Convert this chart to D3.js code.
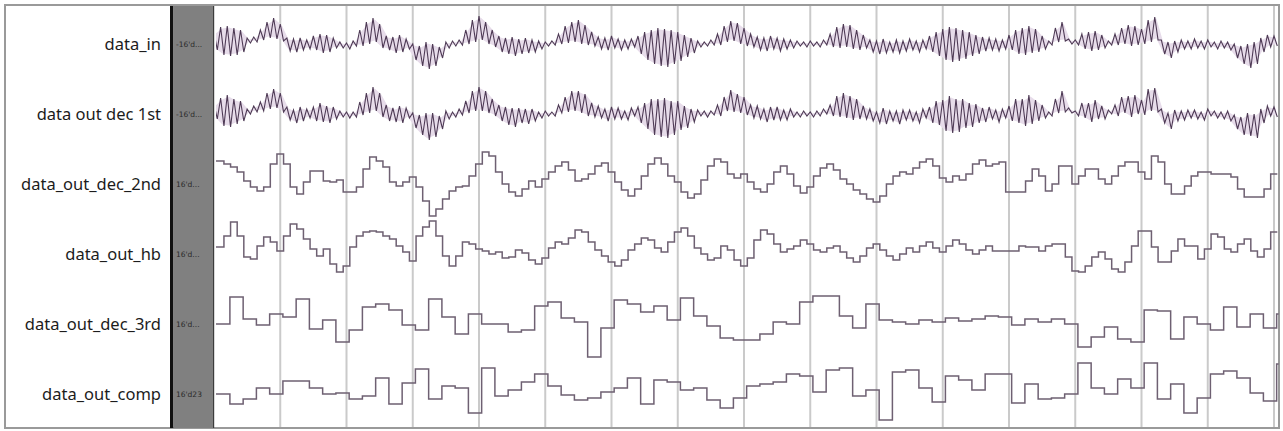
<!DOCTYPE html>
<html>
<head>
<meta charset="utf-8">
<script src="https://cdn.jsdelivr.net/npm/d3@7"></script>
<style>
  html, body { margin: 0; padding: 0; background: #fff; }
  svg { display: block; }
  .name { font-family: "Noto Sans", sans-serif; font-size: 16.5px; fill: #1c1c1c; }
  .val { font-family: "DejaVu Sans", sans-serif; font-size: 7.5px; fill: #2a2a2a; }
</style>
</head>
<body>
<div id="chart"></div>
<script>
// signal names in the left panel, top to bottom
const signalNames = ["data_in", "data out dec 1st", "data_out_dec_2nd", "data_out_hb", "data_out_dec_3rd", "data_out_comp"];
// cursor values in the grey column
const valueLabels = ["-16'd...", "-16'd...", "16'd...", "16'd...", "16'd...", "16'd23"];

// dense signals: one high / low pair per time unit
const dataIn = [
  12,-6, 17,-11, 18,-12, 16,-11, 14,-8, 6,1, 7,2, 14,4, 22,6, 26,5,
  20,3, 6,-7, 5,-8, 6,-6, 4,-5, 8,-6, 10,-9, 9,-8, 6,-4, 2,-4,
  1,-5, 3,-2, 14,-2, 22,0, 26,2, 20,-4, 8,-6, 7,-9, 9,-8, 5,-5,
  0,-16, -2,-22, 2,-25, 0,-22, -3,-14, 2,-4, 3,-2, 4,-1, 14,0, 24,2,
  28,4, 22,0, 14,-3, 8,-8, 6,-10, 7,-12, 5,-10, 6,-9, 4,-8, 3,-5,
  2,-2, 3,-1, 10,0, 18,1, 22,2, 24,0, 19,-1, 12,-2, 7,-5, 6,-6,
  8,-4, 5,-6, 4,-5, 5,-3, 8,-10, 12,-16, 14,-20, 16,-22, 15,-23, 14,-20,
  12,-17, 9,-13, 6,-9, 3,-3, 2,-2, 4,-1, 10,-1, 18,2, 23,3, 21,0,
  16,-2, 10,-3, 7,-6, 6,-7, 8,-5, 6,-7, 5,-5, 4,-4, 3,-2, 2,-3,
  3,-2, 2,-3, 4,-1, 10,-3, 17,-4, 20,-3, 19,-5, 14,-6, 9,-4, 4,-8,
  3,-10, 5,-9, 2,-8, 4,-9, 3,-7, 5,-6, 3,-8, 4,-5, 8,-8, 12,-12,
  15,-16, 17,-18, 16,-17, 14,-15, 12,-12, 9,-10, 7,-7, 6,-6, 5,-7, 4,-5,
  9,-6, 14,-10, 16,-11, 18,-9, 15,-8, 8,-5, 3,-1, 16,2, 22,3, 5,0,
  4,-1, 10,-5, 12,-7, 13,-6, 9,-4, 3,-1, 10,-1, 16,0, 19,-2, 18,-1,
  15,0, 24,2, 27,4, 4,-10, 2,-14, 3,-8, 4,-5, 3,-5, 5,-4, 3,-5,
  4,-3, 2,-5, 3,-4, 2,-6, 0,-14, -2,-20, 0,-24, 2,-20, 6,-8, 9,-3, 8,-2
];
const dataDec1st = [
  10,-5, 16,-12, 19,-13, 15,-10, 13,-7, 5,0, 8,2, 12,3, 21,5, 25,6,
  21,2, 7,-6, 4,-9, 7,-7, 5,-4, 7,-7, 11,-8, 8,-9, 7,-5, 3,-3,
  2,-4, 2,-3, 12,-1, 21,1, 27,3, 21,-3, 9,-7, 6,-8, 8,-9, 6,-4,
  1,-14, -1,-21, 1,-26, 1,-23, -2,-15, 3,-5, 2,-3, 5,-1, 13,1, 23,3,
  27,3, 23,1, 15,-2, 9,-7, 7,-11, 6,-13, 6,-9, 5,-10, 5,-7, 2,-4,
  3,-2, 2,-2, 9,1, 17,2, 23,3, 23,1, 20,-2, 11,-3, 8,-4, 5,-7,
  7,-5, 6,-5, 3,-6, 6,-2, 7,-9, 11,-15, 15,-21, 15,-23, 16,-24, 13,-21,
  13,-16, 8,-14, 5,-8, 4,-2, 3,-3, 3,-1, 9,-2, 17,3, 24,2, 20,1,
  17,-1, 9,-4, 8,-5, 5,-8, 7,-6, 7,-6, 4,-6, 5,-3, 2,-3, 3,-2,
  2,-3, 3,-2, 5,0, 9,-2, 18,-3, 21,-4, 18,-6, 15,-5, 8,-5, 5,-7,
  2,-9, 6,-10, 3,-7, 3,-10, 4,-6, 4,-7, 2,-9, 5,-4, 7,-9, 13,-11,
  14,-17, 18,-19, 15,-18, 15,-14, 11,-13, 10,-9, 6,-8, 7,-5, 4,-8, 5,-4,
  8,-7, 15,-9, 15,-12, 19,-10, 14,-7, 9,-4, 2,-2, 15,1, 23,2, 6,1,
  3,-2, 11,-4, 11,-8, 14,-5, 8,-5, 4,0, 9,-2, 17,1, 18,-3, 19,0,
  14,-1, 25,3, 26,2, 5,-9, 1,-15, 4,-7, 3,-6, 4,-4, 4,-5, 2,-6,
  5,-2, 3,-4, 2,-5, 3,-7, -1,-15, -3,-21, 1,-22, 0,-24, 5,-9, 8,-2, 7,-3
];

// step signals, one value per time unit
const dataDec2nd = [
  23, 23, 20, 17, 12, 3, -3, -7, -3, 20,
  30, 20, -3, -10, 2, 13, 13, 3, 2, 4,
  -8, -8, -3, 15, 27, 23, 17, 2, -2, 2,
  7, -3, -17, -32, -25, -15, -7, -3, -2, 8,
  20, 32, 28, 12, 0, -8, -12, -5, 3, -3,
  5, 12, 18, 22, 14, 3, 5, 10, 18, 21,
  12, 2, -6, -12, -5, 8, 20, 26, 20, 8,
  2, -8, -14, -10, 4, 18, 25, 22, 10, 6,
  10, 2, -5, -8, 0, 12, 18, 10, -2, -9,
  -3, 8, 16, 20, 14, 5, 0, -6, -10, -15,
  -18, -12, 0, 8, 12, 10, 16, 22, 25, 18,
  6, 2, 8, 4, 10, 20, 24, 18, 20, 22,
  -8, -8, -8, 3, 15, 8, -7, 0, 18, 18,
  0, 8, 15, 15, 5, 0, 8, 18, 22, 22,
  12, 5, 28, 22, 0, -10, -10, -2, 8, 12,
  12, 10, 10, 10, 7, -5, -13, -13, -13, -5, 10
];
const dataHb = [
  7, 7, 18, 32, 18, -3, -5, 8, 17, 12,
  3, 18, 30, 25, 15, 5, -2, 5, -10, -18,
  -12, 7, 18, 22, 23, 22, 18, 15, 8, 2,
  -7, 18, 27, 33, 18, -2, -12, -2, 12, 10,
  5, 3, 0, 2, -4, -3, 4, 1, -6, -10,
  -4, 6, 12, 10, 16, 24, 22, 12, 4, -2,
  -8, -12, -6, 4, 10, 16, 14, 6, 2, 12,
  22, 26, 18, 6, 0, -6, -4, 8, 4, -6,
  -12, -4, 14, 24, 20, 10, 2, 5, 8, 14,
  10, 4, 2, 6, 8, 2, -4, -8, -2, 6,
  10, 4, -2, -6, 0, 6, 2, 8, 12, 6,
  2, 8, 14, 10, 4, 0, 4, 8, 3, 3,
  3, 3, 8, 7, 7, 3, 8, 10, 10, -3,
  -17, -18, -12, -3, 2, -5, -15, -18, -8, 8,
  23, 23, 7, -8, -8, 3, 15, 8, 8, -5,
  5, 20, 17, 5, 2, 10, 15, 3, -3, 5, 22
];
// step signals, one value per two time units
const dataDec3rd = [
  0, 0, 27, 5, -1, 10, 7, 25, -5, 4,
  -18, -6, 17, 20, 14, -1, -6, 25, 7, -10,
  10, 0, 0, -8, -6, 18, 22, 6, 2, -33,
  -4, 24, 20, 12, 18, 4, 26, 8, -2, -14,
  -16, -16, -10, 2, 0, 22, 28, 28, 8, -4,
  20, 4, 2, 0, 4, 2, 6, 3, 5, 8,
  7, -1, 5, 2, 5, 0, -23, -13, -3, -15,
  -18, 14, 13, -15, 7, 0, -6, 17, -3, 10,
  -4, 10
];
const dataComp = [
  0, 0, -10, -5, 6, 0, 13, 13, 6, 0,
  1, -5, -2, 16, -10, 11, 25, -5, 8, 6,
  -19, 26, -2, 4, 12, 20, 8, -1, -6, -4,
  2, 6, 16, -10, 14, 12, 4, 6, -6, -14,
  -4, 8, 10, 12, 20, 18, 2, 24, 26, -2,
  4, -26, 22, 24, 6, -8, 18, 14, 4, 20,
  20, -9, 10, -5, -4, 0, 31, 6, 0, 15,
  6, 31, -5, 10, -19, -4, 20, 23, 16, 1,
  -7, 30
];

const W = 1283, H = 431;
const svg = d3.select('#chart').append('svg')
  .attr('width', W)
  .attr('height', H);

// time axis: one unit = one sample of the fast steps
const x = d3.scaleLinear().domain([0, 160]).range([214, 1274]);
const row = d3.scalePoint().domain(signalNames).range([44, 394]);
const gridTimes = d3.range(10, 161, 10);

function yFor(name) {
  const c = row(name);
  return d3.scaleLinear().domain([-35, 35]).range([c + 35, c - 35]);
}

// outer frame
svg.append('rect')
  .attr('x', 5).attr('y', 5)
  .attr('width', 1274).attr('height', 423)
  .attr('fill', '#fff')
  .attr('stroke', '#9a9a9a')
  .attr('stroke-width', 2);

// grid lines
svg.append('g').selectAll('line')
  .data(gridTimes)
  .join('line')
    .attr('x1', d => x(d)).attr('x2', d => x(d))
    .attr('y1', 6).attr('y2', 427)
    .attr('stroke', '#cacaca')
    .attr('stroke-width', 2);

// value column
svg.append('rect').attr('x', 170).attr('y', 6).attr('width', 3.5).attr('height', 422).attr('fill', '#111');
svg.append('rect').attr('x', 173.5).attr('y', 6).attr('width', 39.5).attr('height', 422).attr('fill', '#808080');
svg.append('rect').attr('x', 213).attr('y', 6).attr('width', 1.2).attr('height', 422).attr('fill', '#3c3c3c');

svg.append('clipPath').attr('id', 'wave')
  .append('rect')
    .attr('x', x(0.3)).attr('y', 6)
    .attr('width', x(160.7) - x(0.3)).attr('height', 421);

const plot = svg.append('g').attr('clip-path', 'url(#wave)');

// fast signals: light envelope fill + dark zigzag
[[signalNames[0], dataIn], [signalNames[1], dataDec1st]].forEach(([name, vals]) => {
  const y = yFor(name);
  const pairs = d3.range(vals.length / 2).map(k => [k + 0.25, vals[2 * k], vals[2 * k + 1]]);
  const pts = vals.map((v, i) => [i * 0.5, v]);

  plot.append('path')
    .datum(pairs)
    .attr('d', d3.area().x(d => x(d[0])).y0(d => y(d[2] + 1.5)).y1(d => y(d[1] - 1.5)))
    .attr('fill', '#e7dcea');

  plot.append('path')
    .datum(pts)
    .attr('d', d3.line().x(d => x(d[0])).y(d => y(d[1])))
    .attr('fill', 'none')
    .attr('stroke', '#4e3a55')
    .attr('stroke-width', 1.1);
});

// stepped signals
function stepPts(vals, width, start) {
  const pts = vals.map((v, i) => [start + i * width, v]);
  pts.push([start + vals.length * width, vals[vals.length - 1]]);
  return pts;
}

const steps = [
  [signalNames[2], dataDec2nd, 1, -0.5],
  [signalNames[3], dataHb, 1, -0.5],
  [signalNames[4], dataDec3rd, 2, -1.6],
  [signalNames[5], dataComp, 2, -1.6]
];
steps.forEach(([name, vals, w, start]) => {
  const y = yFor(name);
  plot.append('path')
    .datum(stepPts(vals, w, start))
    .attr('d', d3.line().curve(d3.curveStepAfter).x(d => x(d[0])).y(d => y(d[1])))
    .attr('fill', 'none')
    .attr('stroke', '#6e6072')
    .attr('stroke-width', 1.5);
});

// names
svg.append('g').selectAll('text')
  .data(signalNames)
  .join('text')
    .attr('class', 'name')
    .attr('x', 161)
    .attr('y', d => row(d))
    .attr('dy', '0.35em')
    .attr('text-anchor', 'end')
    .text(d => d);

// cursor values
svg.append('g').selectAll('text')
  .data(valueLabels)
  .join('text')
    .attr('class', 'val')
    .attr('x', 176)
    .attr('y', (d, i) => row(signalNames[i]))
    .attr('dy', '0.35em')
    .text(d => d);
</script>
</body>
</html>
